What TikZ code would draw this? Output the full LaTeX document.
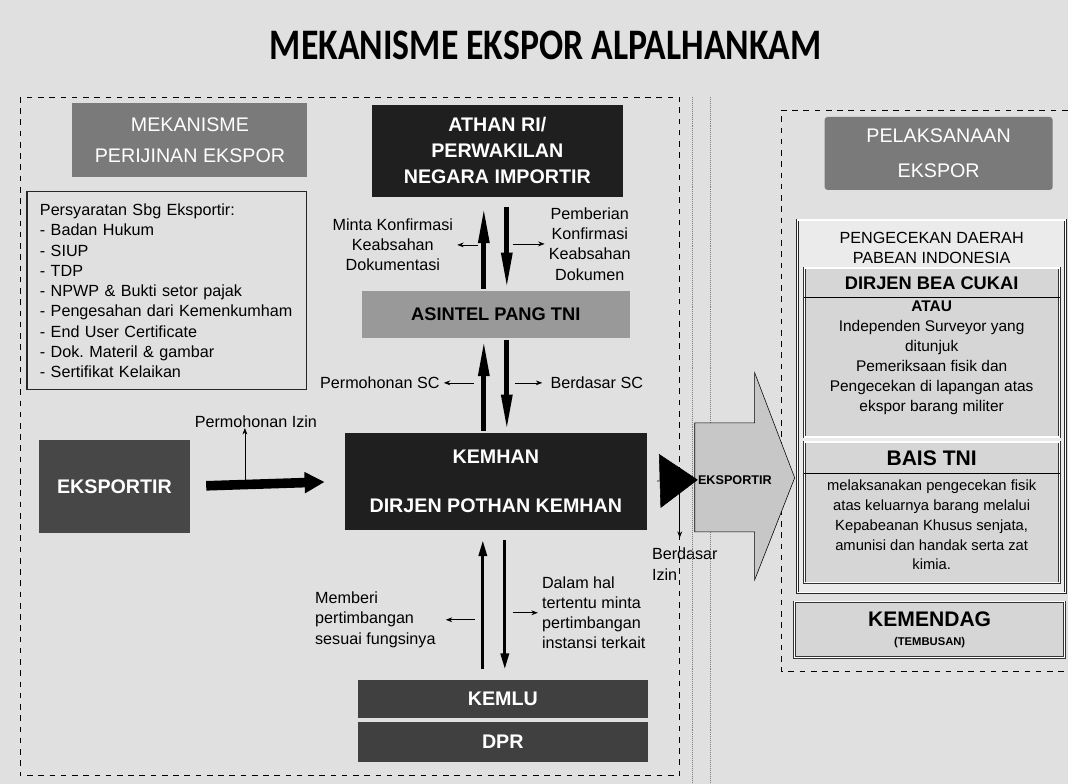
\documentclass[tikz,border=0pt]{standalone}
\usepackage{fontspec}
\setmainfont{Liberation Sans}
\newfontfamily\titlefont{Carlito}
\usepackage{tikz}
\usetikzlibrary{positioning}
\usetikzlibrary{arrows.meta}
\pgfdeclarelayer{nodelayer}
\pgfdeclarelayer{edgelayer}
\pgfsetlayers{nodelayer,edgelayer,main}
\definecolor{bgdots}{gray}{0.88}
\tikzset{
    none/.style = {inner sep=0pt},
    darkbox/.style = {fill=black!88, text=white, align=center, inner sep=0pt, font=\bfseries\fontsize{14}{18.5}\selectfont},
    midbox/.style = {fill=black!72, text=white, align=center, inner sep=0pt, font=\bfseries\fontsize{14}{18}\selectfont},
    headbox/.style = {fill=black!52, text=white!92, align=center, inner sep=0pt, font=\fontsize{14}{22}\selectfont},
    lightbox/.style = {draw=black!80, double, double distance=1pt, fill=black!16, inner sep=0pt},
    note/.style = {inner sep=0pt, font=\fontsize{11.5}{14.4}\selectfont},
    fatarrow/.style = {line width=2.4mm, -{Triangle[length=5mm,width=5mm]}},
    pairarrow/.style = {line width=1.2mm, -{Triangle[length=9mm,width=2.6mm]}},
    thinpair/.style = {line width=0.8mm, -{Triangle[length=4mm,width=2mm]}},
    sidearrow/.style = {thin, -{Stealth[length=1.6mm]}},
    groupline/.style = {dash pattern=on 4pt off 4pt, line width=0.6pt}
}
\begin{document}
\begin{tikzpicture}[x=0.25mm, y=-0.25mm]
  \begin{pgfonlayer}{nodelayer}
    \fill [bgdots] (0,0) rectangle (1068,784);
    \useasboundingbox (0,0) rectangle (1068,784);
    \node [none, font=\titlefont\bfseries\fontsize{31}{36}\selectfont] (title) at (546,45) {\scalebox{0.82}[1]{MEKANISME EKSPOR ALPALHANKAM}};

    % left part: perijinan
    \node [headbox, minimum width=58.75mm, minimum height=18.5mm] (perijinan) at (190,140) {MEKANISME\\PERIJINAN EKSPOR};
    \node [draw=black!85, line width=0.8pt, minimum width=70mm, minimum height=49.5mm, text width=63.5mm, inner xsep=3.25mm, align=left, font=\fontsize{11.5}{14.4}\selectfont] (syarat) at (167,291) {Persyaratan Sbg Eksportir:\\- Badan Hukum\\- SIUP\\- TDP\\- NPWP \& Bukti setor pajak\\- Pengesahan dari Kemenkumham\\- End User Certificate\\- Dok.\ Materil \& gambar\\- Sertifikat Kelaikan};
    \node [darkbox, minimum width=62.75mm, minimum height=23mm] (athan) at (497.5,151) {ATHAN RI/\\PERWAKILAN\\NEGARA IMPORTIR};
    \node [fill=black!40, text=black, inner sep=0pt, font=\bfseries\fontsize{13}{15}\selectfont, minimum width=67mm, minimum height=11.75mm] (asintel) at (496,314.5) {ASINTEL PANG TNI};
    \node [darkbox, font=\bfseries\fontsize{14}{35}\selectfont, minimum width=75.5mm, minimum height=24.25mm] (kemhan) at (496,481.5) {KEMHAN\\DIRJEN POTHAN KEMHAN};
    \node [midbox, minimum width=37.75mm, minimum height=23.25mm] (eksportir) at (114.5,486.5) {EKSPORTIR};
    \node [midbox, fill=black!75, minimum width=72.5mm, minimum height=9.5mm] (kemlu) at (503,699) {KEMLU};
    \node [midbox, fill=black!75, minimum width=72.5mm, minimum height=10mm] (dpr) at (503,742) {DPR};

    \node [note, align=center] (minta) at (393,245) {Minta Konfirmasi\\Keabsahan\\Dokumentasi};
    \node [note, align=center] (pemberian) at (590,244) {Pemberian\\Konfirmasi\\Keabsahan\\Dokumen};
    \node [note] (mohonsc) at (380,383) {Permohonan SC};
    \node [note] (dasarsc) at (597,383) {Berdasar SC};
    \node [note] (mohonizin) at (256,422) {Permohonan Izin};
    \node [note, align=left, anchor=west] (memberi) at (315,620) {Memberi\\pertimbangan\\sesuai fungsinya};
    \node [note, align=left, anchor=west] (dalamhal) at (542,613) {Dalam hal\\tertentu minta\\pertimbangan\\instansi terkait};
    \node [note, align=left, anchor=north west] (dasarizin) at (652,548) {Berdasar\\Izin};

    % right part: pelaksanaan
    \node [headbox, rounded corners=2pt, minimum width=57mm, minimum height=18.25mm, font=\fontsize{14}{25}\selectfont] (pelaksanaan) at (939,153.5) {PELAKSANAAN\\EKSPOR};
    \node [draw=black!85, double, double distance=1pt, fill=black!8, minimum width=67mm, minimum height=93.25mm] (pabean) at (932,406.5) {};
    \node [note, align=center] (pabeantext) at (932,248) {PENGECEKAN DAERAH\\PABEAN INDONESIA};
    \node [lightbox, minimum width=63.75mm, minimum height=42.25mm] (dirjen) at (932.5,352.5) {};
    \node [none, font=\bfseries\fontsize{13}{15}\selectfont] (dirjentitle) at (932,283) {DIRJEN BEA CUKAI};
    \node [note, align=center, font=\fontsize{11}{14.2}\selectfont] (dirjentext) at (932,358) {\textbf{ATAU}\\Independen Surveyor yang\\ditunjuk\\Pemeriksaan fisik dan\\Pengecekan di lapangan atas\\ekspor barang militer};
    \node [lightbox, minimum width=63.75mm, minimum height=35.25mm] (bais) at (932.5,512.5) {};
    \node [none, font=\bfseries\fontsize{15}{17}\selectfont] (baistitle) at (932,458) {BAIS TNI};
    \node [note, align=center, font=\fontsize{10.5}{14.2}\selectfont] (baistext) at (932,525) {melaksanakan pengecekan fisik\\atas keluarnya barang melalui\\Kepabeanan Khusus senjata,\\amunisi dan handak serta zat\\kimia.};
    \node [lightbox, minimum width=67.5mm, minimum height=14mm, align=center, font=\bfseries\fontsize{15}{14}\selectfont] (kemendag) at (930,630) {KEMENDAG\\{\fontsize{8}{9}\selectfont (TEMBUSAN)}};

    \coordinate (ruleA) at (0,297);
    \coordinate (ruleB) at (0,473);
    \coordinate (colL) at (484,0);
    \coordinate (colR) at (507,0);
    \coordinate (lowL) at (483,0);
    \coordinate (lowR) at (505,0);
    \coordinate (izinfoot) at (245,482);
    \coordinate (izintop) at (680,493);
  \end{pgfonlayer}

  \begin{pgfonlayer}{edgelayer}
    \draw [groupline] (20,97) rectangle (680,776);
    \draw [groupline] (1068,110) -| (782,672) -- (1068,672);
    \draw [densely dotted, black!50] (693,97) -- (693,784);
    \draw [densely dotted, black!50] (711,97) -- (711,784);
    \draw (dirjen.west |- ruleA) -- (dirjen.east |- ruleA);
    \draw (bais.west |- ruleB) -- (bais.east |- ruleB);

    % eksportir block arrow
    \draw [fill=black!22] (695,423) -- (755,423) -- (755,373) -- (795,478) -- (755,580) -- (755,532) -- (695,532) -- cycle;
    \node [none, anchor=west, font=\bfseries\fontsize{9}{11}\selectfont] (eksporB) at (698,480) {EKSPORTIR};

    \draw [fatarrow, shorten <=4mm, shorten >=5mm] (eksportir.east) to (kemhan.west);
    \draw [sidearrow] (izinfoot) to (izinfoot |- mohonizin.south);
    \draw [-{Triangle[length=9.5mm,width=13.5mm]}, shorten <=2.5mm] (kemhan.east) to (eksporB.west);
    \draw [sidearrow] (izintop) to ([yshift=2.5mm]izintop |- dasarizin.north);

    \draw [pairarrow, shorten <=0.5mm, shorten >=2.5mm] (colL |- asintel.north) to (colL |- athan.south);
    \draw [pairarrow, shorten <=2.5mm, shorten >=0.5mm] (colR |- athan.south) to (colR |- asintel.north);
    \draw [pairarrow, shorten <=0.5mm, shorten >=0.5mm] (colL |- kemhan.north) to (colL |- asintel.south);
    \draw [pairarrow, shorten <=0.5mm, shorten >=0.5mm] (colR |- asintel.south) to (colR |- kemhan.north);
    \draw [thinpair, shorten <=2.5mm, shorten >=2.5mm] (lowL |- kemlu.north) to (lowL |- kemhan.south);
    \draw [thinpair, shorten <=2.5mm, shorten >=2.5mm] (lowR |- kemhan.south) to (lowR |- kemlu.north);

    \draw [sidearrow, shorten <=1.5mm, shorten >=1mm] (colL |- minta.east) to (minta.east);
    \draw [sidearrow, shorten <=1.5mm, shorten >=1mm] (colR |- pemberian.west) to (pemberian.west);
    \draw [sidearrow, shorten <=2.5mm, shorten >=1mm] (colL |- mohonsc.east) to (mohonsc.east);
    \draw [sidearrow, shorten <=2mm, shorten >=2mm] (colR |- dasarsc.west) to (dasarsc.west);
    \draw [sidearrow, shorten <=2mm, shorten >=2.5mm] (lowL |- memberi.east) to (memberi.east);
    \draw [sidearrow, shorten <=2mm, shorten >=1mm] (lowR |- dalamhal.west) to (dalamhal.west);
  \end{pgfonlayer}
\end{tikzpicture}
\end{document}
